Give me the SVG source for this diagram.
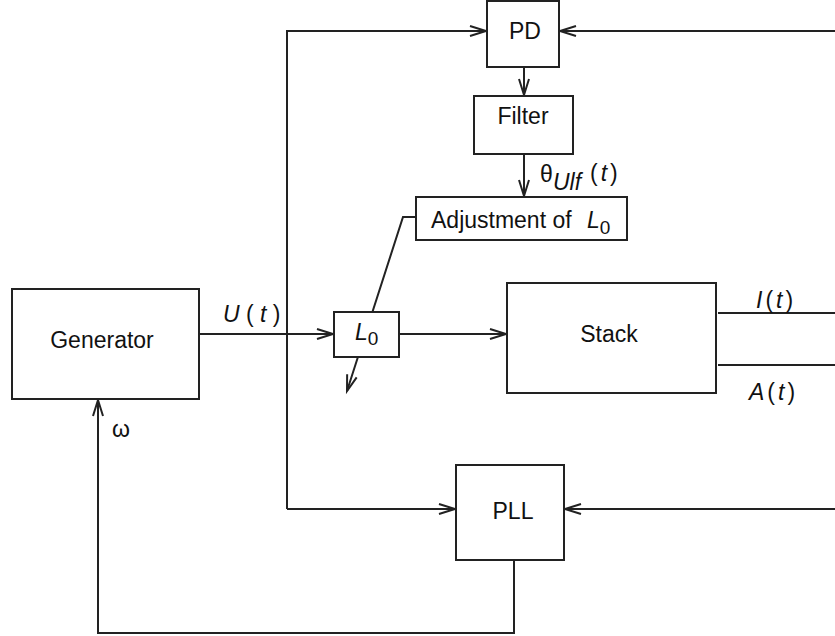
<svg xmlns="http://www.w3.org/2000/svg" width="835" height="636" viewBox="0 0 835 636">
<style>
.box{fill:#fff;stroke:#222;stroke-width:2}
.w{fill:none;stroke:#222;stroke-width:2}
text{font-family:"Liberation Sans",Arial,sans-serif;font-size:23px;fill:#111}
.c{text-anchor:middle}
.i{font-style:italic}
.ls{letter-spacing:3px}
</style>
<defs>
<marker id="ah" markerUnits="userSpaceOnUse" viewBox="0 0 16 10" markerWidth="16" markerHeight="10" refX="16" refY="5" orient="auto" overflow="visible">
<path d="M0,0 L16,5 L0,10" fill="none" stroke="#222" stroke-width="2"/>
</marker>
</defs>
<rect width="835" height="636" fill="#fff"/>
<g id="connectors">
<path class="w" d="M835,31 H560" marker-end="url(#ah)"/>
<path class="w" d="M287,509 V31 H486" marker-end="url(#ah)"/>
<path class="w" d="M524,67 V95" marker-end="url(#ah)"/>
<path class="w" d="M524,154 V196" marker-end="url(#ah)"/>
<path class="w" d="M416,217 H403 L347,391" marker-end="url(#ah)"/>
<path class="w" d="M200,334 H333" marker-end="url(#ah)"/>
<path class="w" d="M399,334 H506" marker-end="url(#ah)"/>
<path class="w" d="M718,313 H835"/>
<path class="w" d="M718,365 H835"/>
<path class="w" d="M287,509 H455" marker-end="url(#ah)"/>
<path class="w" d="M835,509 H565" marker-end="url(#ah)"/>
<path class="w" d="M514,560 V633 H98 V400" marker-end="url(#ah)"/>
<text x="223" y="322"><tspan class="i">U</tspan> ( <tspan class="i">t</tspan> )</text>
<text x="756" y="308" font-size="22" class="ls"><tspan class="i">I</tspan>(<tspan class="i">t</tspan>)</text>
<text x="749" y="400" font-size="22" class="ls"><tspan class="i">A</tspan>(<tspan class="i">t</tspan>)</text>
<text x="112" y="437" font-size="20">ω</text>
<text x="540" y="182" font-size="21">θ</text>
<text x="553" y="190" font-size="21" class="i">Ulf</text>
<text x="590" y="181" font-size="21" class="ls">(<tspan class="i">t</tspan>)</text>
</g>
<g id="pd"><rect class="box" x="487" y="1" width="72" height="66"/><text class="c" x="525" y="39">PD</text></g>
<g id="filter"><rect class="box" x="474" y="96" width="99" height="58"/><text class="c" x="523" y="124">Filter</text></g>
<g id="adjustment"><rect class="box" x="416" y="197" width="211" height="43"/><text x="431" y="228">Adjustment of <tspan class="i" x="587">L</tspan><tspan font-size="19" dy="6">0</tspan></text></g>
<g id="generator"><rect class="box" x="12" y="289" width="187" height="110"/><text class="c" x="102" y="348">Generator</text></g>
<g id="l0"><rect class="box" x="334" y="312" width="65" height="45"/><text x="355" y="340"><tspan class="i">L</tspan><tspan font-size="19" dy="5">0</tspan></text></g>
<g id="stack"><rect class="box" x="507" y="283" width="209" height="110"/><text class="c" x="609" y="342">Stack</text></g>
<g id="pll"><rect class="box" x="456" y="465" width="108" height="95"/><text class="c" x="513" y="519">PLL</text></g>
</svg>
